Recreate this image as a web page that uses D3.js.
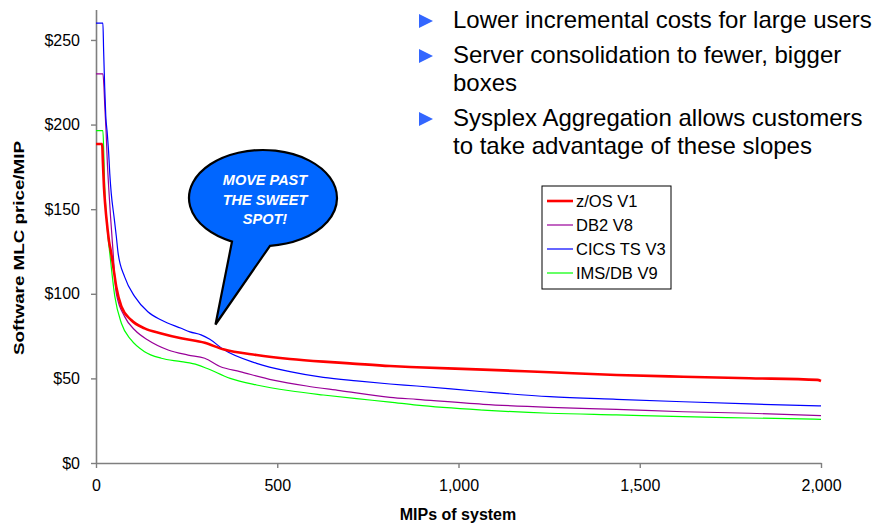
<!DOCTYPE html>
<html>
<head>
<meta charset="utf-8">
<script src="https://cdn.jsdelivr.net/npm/d3@7"></script>
<style>
  html, body { margin: 0; padding: 0; background: #fff; }
  svg { display: block; font-family: Arial, "Liberation Sans", sans-serif; }
</style>
</head>
<body>
<svg id="chart" width="876" height="525"></svg>
<script>
// ---- Data ----
const seriesNames = ["z/OS V1", "DB2 V8", "CICS TS V3", "IMS/DB V9"];
const xTicks = [0, 500, 1000, 1500, 2000];
const yTicks = [0, 50, 100, 150, 200, 250];

// [MIPs, price per MIP]
const zosV1 = [[0,188.5],[17,188.5],[19,178],[22,163],[26,151],[30,142],[36,131],[42,124],[49,114],[56,104],[70,92.5],[97,84.5],[134,79.6],[180,76.6],[235,73.7],[300,71],[351,67.2],[443,63.8],[535,61.5],[627,59.9],[700,58.9],[811,57.3],[885,56.6],[1068,55.2],[1252,53.6],[1436,52],[1620,51],[1803,50.1],[1990,49.1],[2000,48.5]];
const db2V8 = [[0,230],[19,230],[22,222],[24,212],[28,195],[31,179],[35,163],[40,146],[46,128],[56,100.3],[79,86.5],[107,78.6],[143,72.7],[199,66.8],[254,63.8],[300,61.9],[342,57],[397,54],[489,49],[581,45.5],[673,42.8],[811,38.8],[885,37.6],[1068,34.7],[1252,32.9],[1436,31.7],[1620,30.3],[1803,29.4],[2000,28]];
const cicsV3 = [[0,260],[19,260],[21,244],[24,222],[27,205],[31,195],[35,183],[38,171],[42,159.5],[50,145],[56,134],[61,124],[79,110],[107,98.3],[143,89.4],[180,84.5],[235,79.6],[259,77.5],[290,75.7],[314,73.1],[351,67.2],[443,58.9],[535,54],[627,50.6],[719,48.5],[811,46.7],[885,45.5],[1068,42.1],[1252,39.2],[1436,37.6],[1620,36.2],[1803,34.9],[2000,33.7]];
const imsV9 = [[0,196.4],[19,196.4],[22,179],[24,163],[28,147.7],[32,136],[38,124],[52,98.3],[70,82.6],[97,72.7],[134,65.8],[180,61.9],[235,59.9],[280,58],[305,56],[370,50],[443,46.1],[535,42.7],[627,40.2],[719,38],[811,36],[885,34.2],[1068,31.3],[1252,29.4],[1436,28.4],[1620,27.4],[1803,26.6],[2000,25.8]];

const bulletLines = [
  ["Lower incremental costs for large users"],
  ["Server consolidation to fewer, bigger", "boxes"],
  ["Sysplex Aggregation allows customers", "to take advantage of these slopes"]
];
const calloutLines = ["MOVE PAST", "THE SWEET", "SPOT!"];

// ---- Styles ----
const seriesData = [zosV1, db2V8, cicsV3, imsV9];
const colors = ["#FF0000", "#990099", "#0000FF", "#00FF00"];
const widths = [2.6, 1.2, 1.2, 1.2];

const svg = d3.select("#chart");
const x = d3.scaleLinear().domain([0, 2000]).range([96, 821]);
const y = d3.scaleLinear().domain([0, 268]).range([463, 9.5]);

// Axes
const xAxis = d3.axisBottom(x).tickValues(xTicks).tickFormat(d3.format(",")).tickSizeInner(5).tickSizeOuter(0).tickPadding(12);
const yAxis = d3.axisLeft(y).tickValues(yTicks).tickFormat(d => "$" + d).tickSizeInner(5).tickSizeOuter(0).tickPadding(11);

const gx = svg.append("g").attr("transform", "translate(0,463)").call(xAxis);
const gy = svg.append("g").attr("transform", "translate(96,0)").call(yAxis);
[gx, gy].forEach(g => {
  g.select(".domain").attr("stroke", "#7f7f7f").attr("stroke-width", 1.6);
  g.selectAll(".tick line").attr("stroke", "#7f7f7f").attr("stroke-width", 1.4);
  g.selectAll(".tick text").attr("fill", "#000").style("font-size", "16px")
    .style("font-family", "Arial, 'Liberation Sans', sans-serif");
});

// Axis titles
svg.append("text").attr("x", 458).attr("y", 520).attr("text-anchor", "middle")
  .style("font-size", "16px").style("font-weight", "bold").text("MIPs of system");
svg.append("text").attr("transform", "translate(24,248) rotate(-90)").attr("text-anchor", "middle")
  .style("font-size", "15.5px").style("font-weight", "bold")
  .attr("textLength", 214).attr("lengthAdjust", "spacingAndGlyphs")
  .text("Software MLC price/MIP");

// Lines
const line = d3.line().x(d => x(d[0])).y(d => y(d[1])).curve(d3.curveMonotoneX);
[3, 1, 2, 0].forEach(i => {
  svg.append("path").datum(seriesData[i]).attr("d", line)
    .attr("fill", "none").attr("stroke", colors[i]).attr("stroke-width", widths[i])
    .attr("stroke-linejoin", "round");
});

// Legend
const lg = svg.append("g");
lg.append("rect").attr("x", 542).attr("y", 186).attr("width", 129).attr("height", 103)
  .attr("fill", "#fff").attr("stroke", "#000").attr("stroke-width", 1);
seriesNames.forEach((n, i) => {
  const yy = 201 + i * 24;
  lg.append("line").attr("x1", 547).attr("x2", 573).attr("y1", yy).attr("y2", yy)
    .attr("stroke", colors[i]).attr("stroke-width", widths[i]);
  lg.append("text").attr("x", 576).attr("y", yy + 5.5).style("font-size", "16.5px").text(n);
});

// Callout
const cx = 263, cy = 198, rx = 74, ry = 48;
const onEll = xx => cy + ry * Math.sqrt(Math.max(0, 1 - Math.pow((xx - cx) / rx, 2)));
const bL = [232, onEll(232)], bR = [270, onEll(270)], tip = [215.5, 324.5];
svg.append("path")
  .attr("d", `M${bR[0]},${bR[1]} A${rx},${ry} 0 1 0 ${bL[0]},${bL[1]} L${tip[0]},${tip[1]} Z`)
  .attr("fill", "#0066FF").attr("stroke", "#000").attr("stroke-width", 2.2).attr("stroke-linejoin", "miter");
calloutLines.forEach((t, i) => {
  svg.append("text").attr("x", 265).attr("y", 185 + i * 19.5).attr("text-anchor", "middle")
    .attr("fill", "#fff").style("font-size", "14.5px").style("font-weight", "bold").style("font-style", "italic")
    .text(t);
});

// Bullets
const bulletBase = [28, 63, 126];
bulletLines.forEach((lines, i) => {
  const b = bulletBase[i];
  svg.append("path").attr("d", `M419,${b - 14} L433,${b - 7} L419,${b} Z`).attr("fill", "#3366FF");
  lines.forEach((t, j) => {
    svg.append("text").attr("x", 453).attr("y", b + j * 28).style("font-size", "24px").attr("fill", "#000").text(t);
  });
});
</script>
</body>
</html>
